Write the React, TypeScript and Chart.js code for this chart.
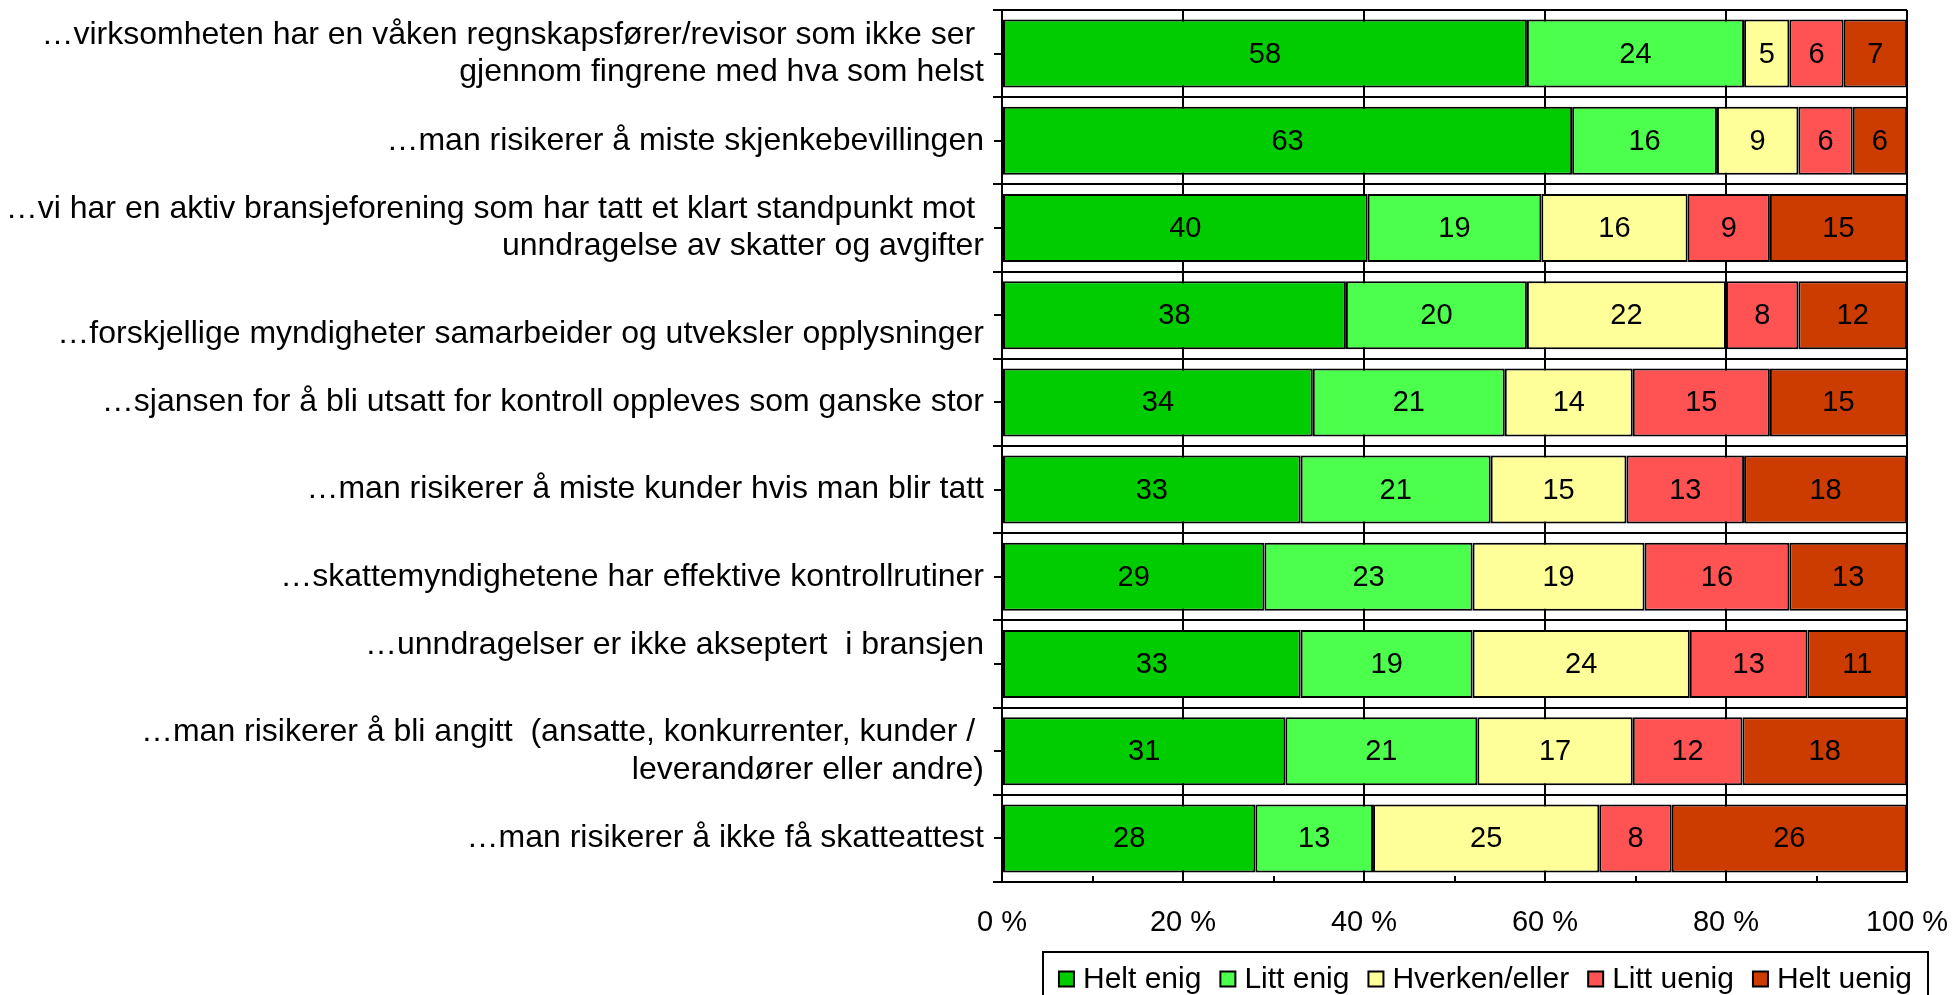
import React, { useEffect, useRef } from "react";
import { Chart, registerables } from "chart.js";
Chart.register(...registerables);

const categories: (string | string[])[] = [
  ["…virksomheten har en våken regnskapsfører/revisor som ikke ser ", "gjennom fingrene med hva som helst"],
  "…man risikerer å miste skjenkebevillingen",
  ["…vi har en aktiv bransjeforening som har tatt et klart standpunkt mot ", "unndragelse av skatter og avgifter"],
  ["", "…forskjellige myndigheter samarbeider og utveksler opplysninger"],
  "…sjansen for å bli utsatt for kontroll oppleves som ganske stor",
  "…man risikerer å miste kunder hvis man blir tatt",
  "…skattemyndighetene har effektive kontrollrutiner",
  ["…unndragelser er ikke akseptert  i bransjen", ""],
  ["…man risikerer å bli angitt  (ansatte, konkurrenter, kunder / ", "leverandører eller andre)"],
  "…man risikerer å ikke få skatteattest",
];

const seriesNames = ["Helt enig", "Litt enig", "Hverken/eller", "Litt uenig", "Helt uenig"];
const heltEnig = [58, 63, 40, 38, 34, 33, 29, 33, 31, 28];
const littEnig = [24, 16, 19, 20, 21, 21, 23, 19, 21, 13];
const hverken = [5, 9, 16, 22, 14, 15, 19, 24, 17, 25];
const littUenig = [6, 6, 9, 8, 15, 13, 16, 13, 12, 8];
const heltUenig = [7, 6, 15, 12, 15, 18, 13, 11, 18, 26];
const xTickValues = [0, 20, 40, 60, 80, 100];
const minorTickValues = [10, 30, 50, 70, 90];
const colors = ["#00CC00", "#4CFF4C", "#FFFF99", "#FF5353", "#CC3C00"];

const FONT = '"Liberation Sans", Arial, sans-serif';

export default function App() {
  const ref = useRef<HTMLCanvasElement | null>(null);

  useEffect(() => {
    const canvas = ref.current;
    if (!canvas) return;
    Chart.defaults.font.family = FONT;
    const rows = [heltEnig, littEnig, hverken, littUenig, heltUenig];
    const totals = categories.map((_, i) => rows.reduce((s, r) => s + r[i], 0));

    const decor = {
      id: "decor",
      afterDatasetsDraw(chart: any) {
        const ctx = chart.ctx;
        const ca = chart.chartArea;
        const xs = chart.scales.x;
        const ys = chart.scales.y;
        ctx.save();
        ctx.font = `29px ${FONT}`;
        ctx.fillStyle = "#000";
        ctx.textAlign = "center";
        ctx.textBaseline = "middle";
        rows.forEach((r, k) => {
          const meta = chart.getDatasetMeta(k);
          meta.data.forEach((el: any, i: number) => {
            const p = el.getCenterPoint();
            ctx.fillText(String(r[i]), p.x, p.y + 1);
          });
        });
        ctx.strokeStyle = "#000";
        ctx.lineWidth = 2;
        minorTickValues.forEach((v) => {
          const px = Math.round(xs.getPixelForValue(v));
          ctx.beginPath();
          ctx.moveTo(px, ca.bottom);
          ctx.lineTo(px, ca.bottom - 6);
          ctx.stroke();
        });
        categories.forEach((_, i) => {
          const py = Math.round(ys.getPixelForValue(i));
          ctx.beginPath();
          ctx.moveTo(ca.left - 8, py);
          ctx.lineTo(ca.left, py);
          ctx.stroke();
        });
        ctx.restore();
      },
      afterDraw(chart: any) {
        const ctx = chart.ctx;
        ctx.save();
        const boxL = 1043, boxR = 1928, boxT = 952, boxB = 1000;
        ctx.strokeStyle = "#000";
        ctx.lineWidth = 2;
        ctx.strokeRect(boxL, boxT, boxR - boxL, boxB - boxT);
        ctx.font = `30px ${FONT}`;
        const marker = 15, gapText = 9, gapItem = 19;
        const widths = seriesNames.map((n) => ctx.measureText(n).width);
        const total = widths.reduce((s, w) => s + w + marker + gapText, 0) + gapItem * (seriesNames.length - 1);
        let x = boxL + (boxR - boxL - total) / 2;
        const cy = 979;
        ctx.textAlign = "left";
        ctx.textBaseline = "middle";
        seriesNames.forEach((n, k) => {
          ctx.fillStyle = colors[k];
          ctx.fillRect(x, cy - marker / 2, marker, marker);
          ctx.strokeRect(x, cy - marker / 2, marker, marker);
          ctx.fillStyle = "#000";
          ctx.fillText(n, x + marker + gapText, cy + 1);
          x += marker + gapText + widths[k] + gapItem;
        });
        ctx.restore();
      },
    };

    const chart = new Chart(canvas, {
      type: "bar",
      data: {
        labels: categories,
        datasets: rows.map((r, k) => ({
          label: seriesNames[k],
          data: r.map((v, i) => (v / totals[i]) * 100),
          backgroundColor: colors[k],
          borderColor: "#000",
          borderWidth: 2,
          borderSkipped: false,
          barPercentage: 0.78,
          categoryPercentage: 1,
        })),
      },
      options: {
        indexAxis: "y",
        animation: false,
        responsive: false,
        devicePixelRatio: 1,
        layout: { padding: { top: 10, right: 46, left: 0, bottom: 0 } },
        plugins: { legend: { display: false }, tooltip: { enabled: false } },
        scales: {
          x: {
            stacked: true,
            min: 0,
            max: 100,
            afterBuildTicks: (s: any) => {
              s.ticks = xTickValues.map((v) => ({ value: v }));
            },
            ticks: {
              callback: (v: any) => `${v} %`,
              font: { size: 29 },
              color: "#000",
              padding: 24,
              maxRotation: 0,
              autoSkip: false,
            },
            grid: { color: "#000", lineWidth: 2, drawTicks: false },
            border: { color: "#000", width: 2 },
            afterFit: (s: any) => {
              s.height = 113;
              s.paddingLeft = 0;
              s.paddingRight = 0;
            },
          },
          y: {
            stacked: true,
            ticks: {
              font: { size: 32, lineHeight: 1.16 },
              color: "#000",
              padding: 9,
              autoSkip: false,
            },
            grid: { color: "#000", lineWidth: 2, tickLength: 9, offset: true },
            border: { color: "#000", width: 2 },
            afterFit: (s: any) => {
              s.width = 1002;
              s.paddingTop = 0;
              s.paddingBottom = 0;
            },
          },
        },
      },
      plugins: [decor],
    } as any);

    return () => chart.destroy();
  }, []);

  return (
    <div style={{ position: "fixed", left: 0, top: 0, width: 1953, height: 995, background: "#fff" }}>
      <canvas ref={ref} width={1953} height={995} style={{ display: "block" }} />
    </div>
  );
}
